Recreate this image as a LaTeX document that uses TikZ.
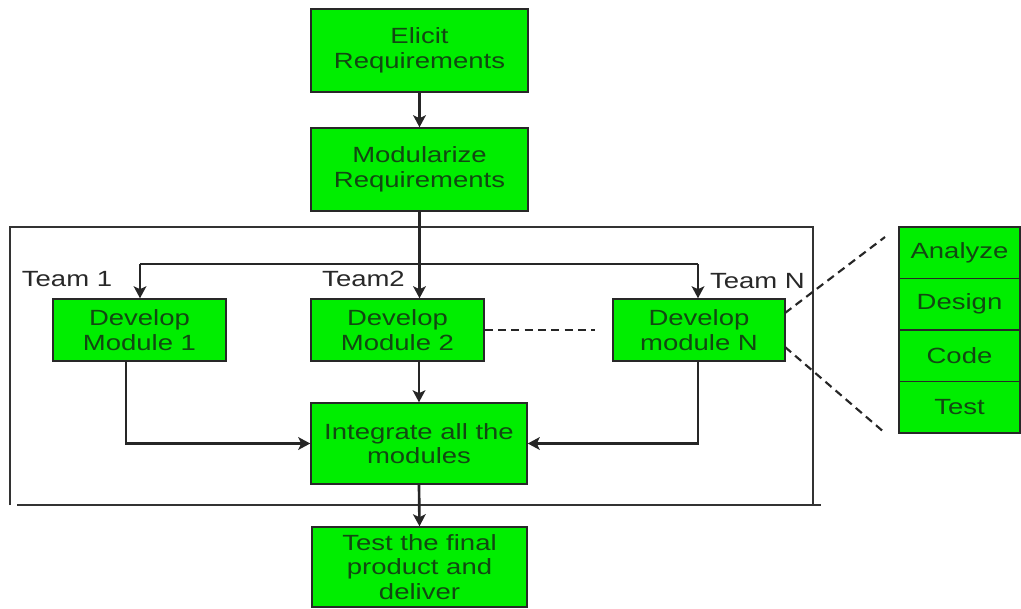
\documentclass[tikz,border=0pt]{standalone}
\usepackage{fontspec}
\setmainfont{Liberation Sans}[FakeStretch=1.25]
\usetikzlibrary{arrows.meta}
\definecolor{boxgreen}{RGB}{0,238,0}
\definecolor{boxtext}{RGB}{18,72,18}
\definecolor{labeltext}{RGB}{40,40,40}
\definecolor{edge}{RGB}{40,40,40}
\tikzset{
  box/.style={draw=edge, line width=1.1pt, fill=boxgreen, text=boxtext,
    align=center, inner sep=0pt,
    font=\fontsize{16.5pt}{18.5pt}\selectfont},
  teamlabel/.style={text=labeltext, inner sep=0pt,
    font=\fontsize{16.5pt}{18.5pt}\selectfont},
  conn/.style={draw=black!85, line width=2pt},
  arr/.style={conn, -{Stealth[length=9pt,width=9.5pt,inset=2.2pt]}},
  dashline/.style={draw=black!85, line width=1.6pt, dash pattern=on 6pt off 4pt},
  frame/.style={draw=black!80, line width=2pt},
}
\begin{document}
\begin{tikzpicture}[x=0.75pt,y=-0.75pt]
\useasboundingbox (0,0) rectangle (1021,608);
\fill[white] (0,0) rectangle (1021,608);

% frame
\draw[frame] (10,505) -- (10,227) -- (813,227) -- (813,505);
\draw[frame] (17,505) -- (821,505);

% main boxes
\node[box, minimum width=162.75pt, minimum height=62.25pt] (eli) at (419.5,50.5) {Elicit\\Requirements};
\node[box, minimum width=162.75pt, minimum height=62.25pt] (mod) at (419.5,169.5) {Modularize\\Requirements};
\node[box, minimum width=129.75pt, minimum height=46.5pt] (dev1) at (139.5,330) {Develop\\Module 1};
\node[box, minimum width=129.75pt, minimum height=46.5pt] (dev2) at (397.5,330) {Develop\\Module 2};
\node[box, minimum width=129pt, minimum height=46.5pt] (devN) at (699,330) {Develop\\module N};
\node[box, minimum width=162pt, minimum height=60.75pt] (int) at (419,443.5) {Integrate all the\\modules};
\node[box, minimum width=161.25pt, minimum height=60pt] (test) at (419.5,567) {Test the final\\product and\\deliver};

% stack of activities
\node[box, minimum width=90.75pt, minimum height=38.625pt] (ana) at (959.5,252.75) {Analyze};
\node[box, minimum width=90.75pt, minimum height=38.625pt] (des) at (959.5,304.25) {Design};
\node[box, minimum width=90.75pt, minimum height=38.625pt] (cod) at (959.5,355.75) {Code};
\node[box, minimum width=90.75pt, minimum height=38.625pt] (tst) at (959.5,407.25) {Test};

% team labels
\node[teamlabel] (t1) at (67,279) {Team 1};
\node[teamlabel] (t2) at (363.5,279) {Team2};
\node[teamlabel] (tN) at (757.5,281) {Team N};

% coordinates
\coordinate (b1) at (140,264);
\coordinate (bN) at (698,264);
\coordinate (d1out) at (126,361);
\coordinate (dashend) at (595,330);
\coordinate (zu1) at (785,313);
\coordinate (zu2) at (885,237);
\coordinate (zl1) at (785,347);
\coordinate (zl2) at (885,433);

% connectors
\draw[arr] (eli.south) -- (mod.north);
\draw[arr] (mod.south) -- (dev2.north -| mod.south);
\draw[conn] (b1) -- (bN);
\draw[arr] (b1) -- (b1 |- dev1.north);
\draw[arr] (bN) -- (bN |- devN.north);
\draw[arr] (d1out) |- (int.west);
\draw[arr] (devN.south -| bN) |- (int.east);
\draw[arr] (int.north |- dev2.south) -- (int.north);
\draw[arr] (int.south) -- (test.north);

% dashed
\draw[dashline] (dev2.east) -- (dashend);
\draw[dashline] (zu1) -- (zu2);
\draw[dashline] (zl1) -- (zl2);
\end{tikzpicture}
\end{document}
